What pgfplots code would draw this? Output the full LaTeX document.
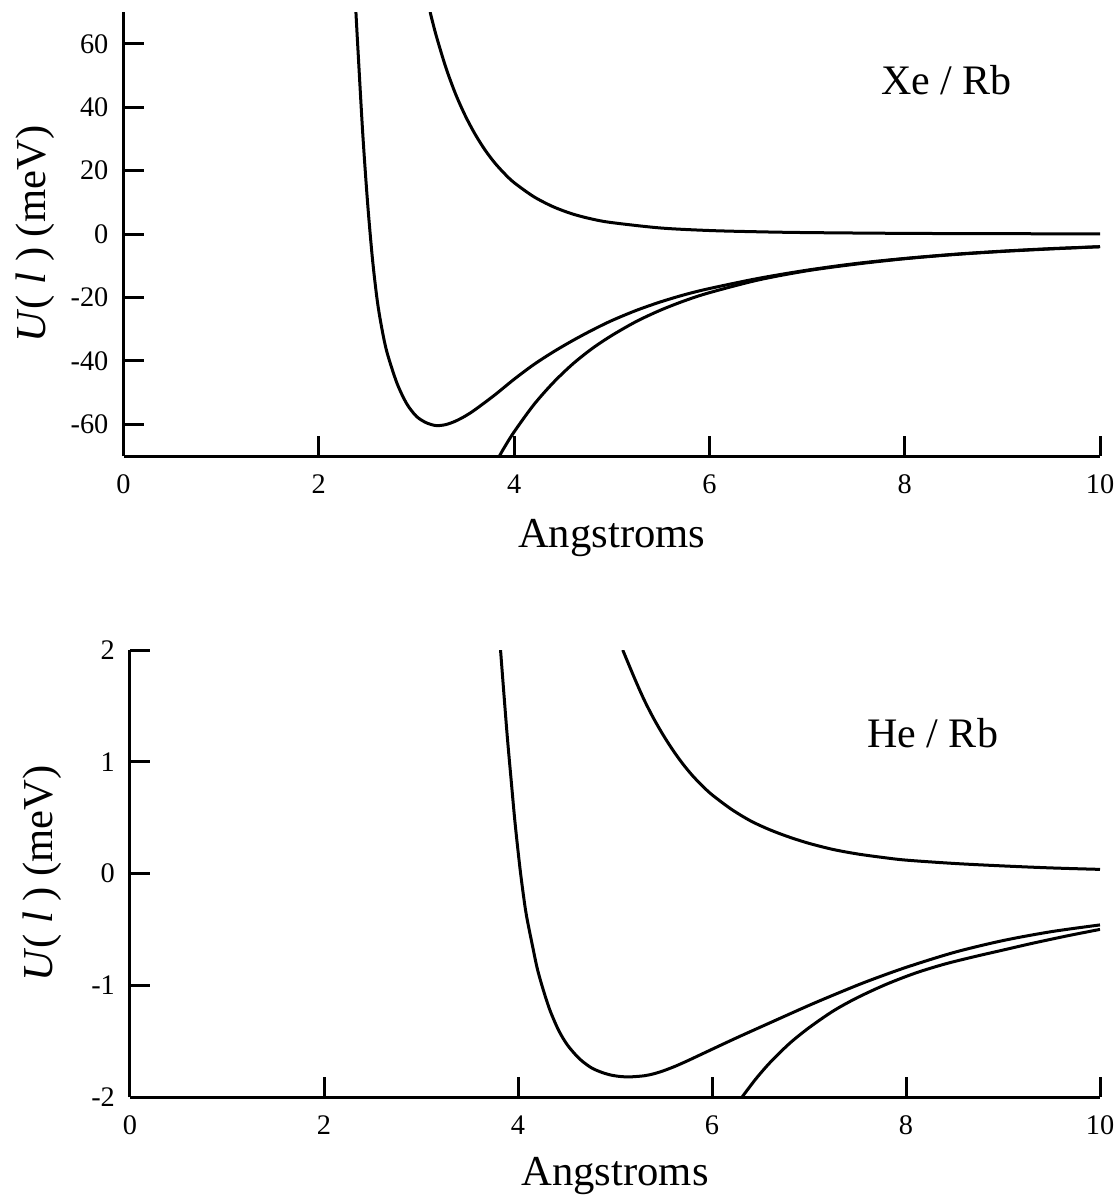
\documentclass[border=0pt]{standalone}
\usepackage{fontspec}
\setmainfont{Liberation Serif}
\usepackage{pgfplots}
\pgfplotsset{compat=1.18}

\newcommand{\tk}[1]{{\fontsize{8.5}{10}\selectfont #1}}

% shared look of the two panels
\pgfplotsset{
  potpanel/.style={
    scale only axis,
    axis x line*=bottom,
    axis y line*=left,
    axis line style={-, line width=0.9pt},
    tick align=inside,
    major tick length=6pt,
    every tick/.style={black, line width=0.9pt},
    xmin=0, xmax=10,
    xtick={0,2,4,6,8,10},
    xticklabels={\tk{0},\tk{2},\tk{4},\tk{6},\tk{8},\tk{10}},
    enlargelimits=false,
    every tick label/.append style={font=\fontsize{8.5}{10}\selectfont},
    xticklabel style={yshift=-2pt},
    yticklabel style={xshift=-1pt},
    xlabel={Angstroms},
    every axis x label/.style={at={(axis description cs:0.5,-0.207)}, anchor=base,
      font=\fontsize{12.8}{15}\selectfont},
    ylabel={\textit{U}( \textit{l} ) (meV)},
    every axis y label/.style={at={(axis description cs:-0.09,0.5)}, rotate=90, anchor=center,
      font=\fontsize{12.8}{15}\selectfont},
  },
  pot/.style={black, line width=0.9pt, mark=none, smooth, tension=0.5},
}

\begin{document}
\begin{tikzpicture}
\useasboundingbox (0,0) rectangle (335.1pt,-358.5pt);

% ---- Xe / Rb ----
\begin{axis}[potpanel,
    at={(37.05pt,-136.8pt)},
    width=292.95pt, height=133.2pt,
    ymin=-70, ymax=70,
    ytick={-60,-40,-20,0,20,40,60},
    yticklabels={\tk{-60},\tk{-40},\tk{-20},\tk{0},\tk{20},\tk{40},\tk{60}},
]
% repulsive
\addplot[pot] coordinates {
 (3.14,70) (3.2,62.8) (3.3,52.6) (3.4,44.2) (3.5,37.3) (3.6,31.5) (3.7,26.6)
 (3.8,22.5) (3.9,19.1) (4.0,16.2) (4.2,11.8) (4.4,8.6) (4.6,6.3) (4.8,4.7)
 (5.0,3.6) (5.5,1.9) (6.0,1.1) (6.5,0.7) (7.0,0.45) (8.0,0.2) (9.0,0.1) (10,0.05)
};
% full potential
\addplot[pot] coordinates {
 (2.38,70) (2.40,58.7) (2.45,31.7) (2.50,9.7) (2.55,-8.0) (2.60,-21.3)
 (2.65,-30.5) (2.70,-37.5) (2.80,-47.0) (2.90,-53.5) (3.00,-57.5) (3.10,-59.5)
 (3.20,-60.4) (3.30,-60.1) (3.40,-59) (3.50,-57.4) (3.60,-55.4) (3.80,-50.8)
 (4.00,-45.8) (4.20,-41.2) (4.40,-37.2) (4.60,-33.6) (4.80,-30.3) (5.00,-27.3)
 (5.25,-24.1) (5.50,-21.4) (5.75,-19.1) (6.00,-17.2) (6.50,-14.0) (7.00,-11.4)
 (7.50,-9.3) (8.00,-7.7) (8.50,-6.4) (9.00,-5.4) (9.50,-4.6) (10,-4.0)
};
% attractive
\addplot[pot] coordinates {
 (3.85,-70) (3.9,-67.3) (4.0,-62.4) (4.2,-53.9) (4.4,-46.9) (4.6,-41.0)
 (4.8,-36.1) (5.0,-32.0) (5.25,-27.6) (5.5,-24.0) (5.75,-21.0) (6.0,-18.5)
 (6.5,-14.5) (7.0,-11.6) (7.5,-9.5) (8.0,-7.8) (8.5,-6.5) (9.0,-5.5)
 (9.5,-4.7) (10,-4.0)
};
\node[anchor=base west, font=\fontsize{12.6}{14}\selectfont] at (axis cs:7.64,44) {Xe / Rb};
\end{axis}

% ---- He / Rb ----
\begin{axis}[potpanel,
    at={(39pt,-329.1pt)},
    width=291pt, height=134.1pt,
    ymin=-2, ymax=2,
    ytick={-2,-1,0,1,2},
    yticklabels={\tk{-2},\tk{-1},\tk{0},\tk{1},\tk{2}},
    every axis x label/.append style={at={(axis description cs:0.5,-0.199)}},
]
% repulsive
\addplot[pot] coordinates {
 (5.08,2.00) (5.2,1.75) (5.3,1.555) (5.4,1.385) (5.5,1.235) (5.6,1.10)
 (5.7,0.98) (5.8,0.875) (5.9,0.785) (6.0,0.705) (6.2,0.575) (6.4,0.47)
 (6.6,0.39) (6.8,0.325) (7.0,0.27) (7.25,0.215) (7.5,0.175) (7.75,0.145)
 (8.0,0.12) (8.5,0.09) (9.0,0.068) (9.5,0.05) (10,0.037)
};
% full potential
\addplot[pot] coordinates {
 (3.82,2.00) (3.85,1.66) (3.89,1.22) (3.93,0.83) (3.97,0.45) (4.02,0.05)
 (4.06,-0.22) (4.09,-0.39) (4.15,-0.65) (4.20,-0.855) (4.26,-1.04) (4.33,-1.225)
 (4.42,-1.405) (4.51,-1.535) (4.63,-1.655) (4.75,-1.735) (4.85,-1.775) (4.95,-1.802)
 (5.05,-1.816) (5.15,-1.82) (5.30,-1.81) (5.40,-1.792) (5.50,-1.765) (5.62,-1.725)
 (5.75,-1.675) (5.88,-1.622) (6.00,-1.573) (6.15,-1.512) (6.30,-1.452) (6.60,-1.335)
 (7.00,-1.18) (7.30,-1.07) (7.60,-0.965) (8.00,-0.84) (8.50,-0.705) (9.00,-0.60)
 (9.50,-0.52) (10.0,-0.46)
};
% attractive
\addplot[pot] coordinates {
 (6.31,-2.00) (6.45,-1.84) (6.60,-1.69) (6.80,-1.52) (7.00,-1.38) (7.25,-1.23)
 (7.50,-1.11) (7.80,-0.99) (8.10,-0.89) (8.40,-0.81) (8.70,-0.745) (9.00,-0.685)
 (9.30,-0.625) (9.65,-0.56) (10.0,-0.50)
};
\node[anchor=base west, font=\fontsize{12.6}{14}\selectfont] at (axis cs:7.48,1.13) {He / Rb};
\end{axis}
\end{tikzpicture}
\end{document}
